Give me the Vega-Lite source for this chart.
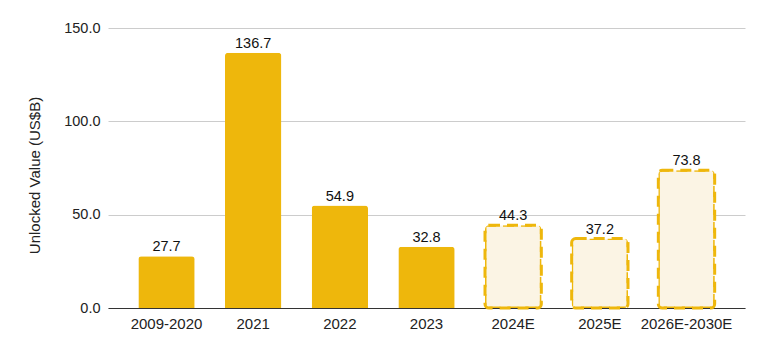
{
  "$schema": "https://vega.github.io/schema/vega-lite/v6.json",
  "autosize": "none",
  "width": 637,
  "height": 280,
  "padding": {"left": 108, "top": 28, "right": 27, "bottom": 47},
  "background": "white",
  "config": {
    "view": {"stroke": null},
    "font": "Liberation Sans",
    "axis": {"labelFont": "Liberation Sans", "titleFont": "Liberation Sans"}
  },
  "data": {
    "values": [
      {"period": "2009-2020", "value": 27.7, "type": "actual"},
      {"period": "2021", "value": 136.7, "type": "actual"},
      {"period": "2022", "value": 54.9, "type": "actual"},
      {"period": "2023", "value": 32.8, "type": "actual"},
      {"period": "2024E", "value": 44.3, "type": "estimate"},
      {"period": "2025E", "value": 37.2, "type": "estimate"},
      {"period": "2026E-2030E", "value": 73.8, "type": "estimate"}
    ]
  },
  "encoding": {
    "x": {
      "field": "period",
      "type": "nominal",
      "sort": null,
      "scale": {"paddingInner": 0.35, "paddingOuter": 0.35},
      "axis": {
        "title": null,
        "labelAngle": 0,
        "ticks": false,
        "labelPadding": 8,
        "labelFontSize": 15,
        "labelColor": "#222222",
        "domainColor": "#333333",
        "domainWidth": 1
      }
    },
    "y": {
      "field": "value",
      "type": "quantitative",
      "scale": {"domain": [0, 150]},
      "axis": {
        "title": "Unlocked Value (US$B)",
        "titleFontSize": 15,
        "titleFontWeight": "normal",
        "titleColor": "#222222",
        "titlePadding": 21,
        "titleY": 147,
        "values": [0, 50, 100, 150],
        "format": ".1f",
        "ticks": false,
        "domain": false,
        "labelPadding": 8,
        "labelFontSize": 14.5,
        "labelColor": "#222222",
        "gridColor": "#cccccc",
        "gridWidth": 1
      }
    }
  },
  "layer": [
    {
      "transform": [{"filter": "datum.type === 'actual'"}],
      "mark": {"type": "bar", "color": "#EEB70C", "cornerRadiusTopLeft": 3, "cornerRadiusTopRight": 3}
    },
    {
      "transform": [{"filter": "datum.type === 'estimate'"}],
      "mark": {
        "type": "bar",
        "fill": "#FBF4E4",
        "stroke": "#EEB70C",
        "strokeWidth": 3,
        "strokeDash": [11, 7],
        "cornerRadius": 4
      }
    },
    {
      "mark": {"type": "text", "dy": -5, "fontSize": 14.5, "color": "#111111", "baseline": "alphabetic"},
      "encoding": {
        "text": {"field": "value", "type": "quantitative", "format": ".1f"}
      }
    }
  ]
}
